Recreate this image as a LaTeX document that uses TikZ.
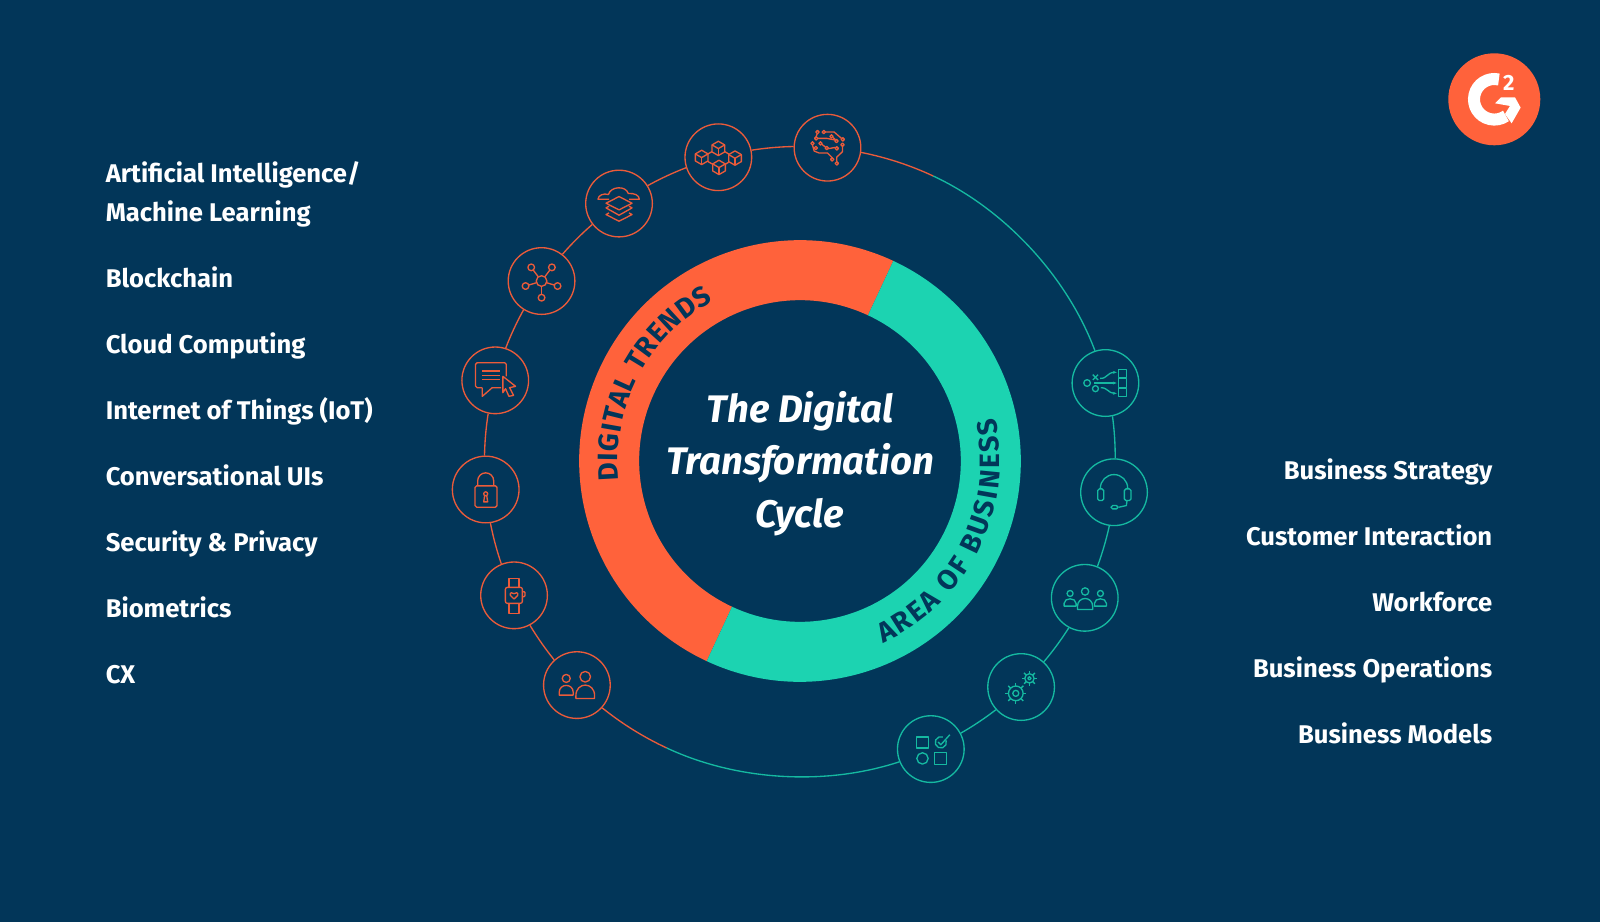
\documentclass[tikz,border=0pt]{standalone}
\usepackage{fontspec}
\setmainfont{Fira Sans}
\usetikzlibrary{arrows.meta,calc,decorations.text}
\definecolor{papernavy}{HTML}{023659}
\definecolor{ringorange}{HTML}{FF623B}
\definecolor{ringteal}{HTML}{1CD3B1}
\definecolor{lineorange}{HTML}{EB5B3A}
\definecolor{lineteal}{HTML}{15B9A1}
\newcommand{\ringfont}{\fontsize{21}{21}\selectfont\bfseries}
\newcommand{\cubeglyph}[2]{%
  \draw (#1,#2) ++(0,-21) -- ++(19,11) -- ++(0,21) -- ++(-19,11)
    -- ++(-19,-11) -- ++(0,-21) -- cycle;
  \draw (#1,#2) ++(-19,-10) -- ++(19,11) -- ++(19,-11);
  \draw (#1,#2) ++(0,1) -- ++(0,21);
}
\newcommand{\gearglyph}[5]{%
  \draw (#1,#2) circle[radius=#3];
  \draw (#1,#2) circle[radius=#4];
  \foreach \gearangle in {0,45,...,315}
    \draw ([shift={(#1,#2)}]\gearangle:#3) -- ([shift={(#1,#2)}]\gearangle:#5);
}
\newcommand{\personglyph}[6]{%
  \draw (#1,#2) circle[radius=#3];
  \draw (#1-#4,#6) -- (#1-#4,#6-8)
    .. controls (#1-#4,#5-#6/3+#5/3+8/3) and (#1+#4,#5-#6/3+#5/3+8/3) .. (#1+#4,#6-8)
    -- (#1+#4,#6) -- cycle;
}
\tikzset{
  sidelabel/.style={font=\fontsize{19.2}{29.6}\selectfont\bfseries, text=white, inner sep=0pt},
  titletext/.style={font=\fontsize{28.8}{39.4}\selectfont\bfseries\itshape, text=white,
    align=center, inner sep=0pt},
  orangeicon/.style={circle, draw=lineorange, line width=1pt, minimum size=50pt, inner sep=0pt},
  tealicon/.style={circle, draw=lineteal, line width=1pt, minimum size=50pt, inner sep=0pt},
  orangeleg/.style={draw=lineorange, line width=1pt, looseness=.85},
  tealleg/.style={draw=lineteal, line width=1pt, looseness=.85},
  iconscope/.style={shift={(#1.center)}, x=.25pt, y=-.25pt, line width=1pt, line join=round},
  orangeglyph/.style={iconscope=#1, lineorange},
  tealglyph/.style={iconscope=#1, lineteal}
}
\begin{document}
\begin{tikzpicture}[x=.75pt,y=.75pt]
  \fill[papernavy] (-800,-461) rectangle (800,461);
  \useasboundingbox (-800,-461) rectangle (800,461);

  % ring
  \fill[ringorange] (65:220.8) arc[start angle=65,end angle=245,radius=220.8]
    -- (245:160.8) arc[start angle=245,end angle=65,radius=160.8] -- cycle;
  \fill[ringteal] (245:220.8) arc[start angle=245,end angle=425,radius=220.8]
    -- (65:160.8) arc[start angle=425,end angle=245,radius=160.8] -- cycle;
  \path[decorate, decoration={text along path, text align=fit to path,
    text={|\ringfont\color{papernavy}|DIGITAL TRENDS}}]
    (186:182) arc[start angle=186,end angle=118.5,radius=182];
  \path[decorate, decoration={text along path, text align=fit to path,
    text={|\ringfont\color{papernavy}|AREA OF BUSINESS}}]
    (-65.5:200) arc[start angle=-65.5,end angle=12.5,radius=200];
  \node[titletext] (cycletitle) at (0,-2.5)
    {The Digital\\Transformation\\Cycle};

  % left list
  \node[sidelabel, anchor=base west, align=left] (labelai) at (-694.5,239.5)
    {Artificial Intelligence/\\Machine Learning};
  \node[sidelabel, anchor=base west] (labelchain) at (-694.5,173.5) {Blockchain};
  \node[sidelabel, anchor=base west] (labelcloud) at (-694.5,107.5) {Cloud Computing};
  \node[sidelabel, anchor=base west] (labeliot) at (-694.5,41.5) {Internet of Things (IoT)};
  \node[sidelabel, anchor=base west] (labelui) at (-694.5,-24.5) {Conversational UIs};
  \node[sidelabel, anchor=base west] (labelsec) at (-694.5,-90.5) {Security \& Privacy};
  \node[sidelabel, anchor=base west] (labelbio) at (-694.5,-156.5) {Biometrics};
  \node[sidelabel, anchor=base west] (labelcx) at (-694.5,-222.5) {CX};

  % right list
  \node[sidelabel, anchor=base east] (labelstrategy) at (692.5,-18) {Business Strategy};
  \node[sidelabel, anchor=base east] (labelcustomer) at (692.5,-84) {Customer Interaction};
  \node[sidelabel, anchor=base east] (labelworkforce) at (692.5,-150) {Workforce};
  \node[sidelabel, anchor=base east] (labelops) at (692.5,-216) {Business Operations};
  \node[sidelabel, anchor=base east] (labelmodels) at (692.5,-282) {Business Models};

  % icon circles
  \node[orangeicon] (brain) at ([yshift=-.75pt]85:315.5) {};
  \node[orangeicon] (blocks) at ([yshift=-.75pt]105:315.5) {};
  \node[orangeicon] (cloud) at ([yshift=-.75pt]125:315.5) {};
  \node[orangeicon] (network) at ([yshift=-.75pt]145:315.5) {};
  \node[orangeicon] (chat) at ([yshift=-.75pt]165:315.5) {};
  \node[orangeicon] (lock) at ([yshift=-.75pt]185:315.5) {};
  \node[orangeicon] (watch) at ([yshift=-.75pt]205:315.5) {};
  \node[orangeicon] (people) at ([yshift=-.75pt]225:315.5) {};
  \node[tealicon] (checks) at ([yshift=-.75pt]294.5:315.5) {};
  \node[tealicon] (gears) at ([yshift=-.75pt]314.5:315.5) {};
  \node[tealicon] (team) at ([yshift=-.75pt]334.5:315.5) {};
  \node[tealicon] (headset) at ([yshift=-.75pt]354.5:315.5) {};
  \node[tealicon] (flow) at ([yshift=-.75pt]14.5:315.5) {};
  \coordinate (swaptop) at ([yshift=-.75pt]65:315.5);
  \coordinate (swapbottom) at ([yshift=-.75pt]245:315.5);

  % arcs
  \draw[orangeleg] (swaptop) to[bend right=6.98] (brain.352);
  \draw[orangeleg] (brain.178) to[bend right=3.95] (blocks.12);
  \draw[orangeleg] (blocks.198) to[bend right=3.95] (cloud.32);
  \draw[orangeleg] (cloud.218) to[bend right=3.95] (network.52);
  \draw[orangeleg] (network.238) to[bend right=3.95] (chat.72);
  \draw[orangeleg] (chat.258) to[bend right=3.95] (lock.92);
  \draw[orangeleg] (lock.278) to[bend right=3.95] (watch.112);
  \draw[orangeleg] (watch.298) to[bend right=3.95] (people.132);
  \draw[orangeleg] (people.318) to[bend right=6.98] (swapbottom);
  \draw[tealleg] (swapbottom) to[bend right=21.7] (checks.202);
  \draw[tealleg] (checks.28) to[bend right=3.95] (gears.222);
  \draw[tealleg] (gears.48) to[bend right=3.95] (team.242);
  \draw[tealleg] (team.68) to[bend right=3.95] (headset.262);
  \draw[tealleg] (headset.88) to[bend right=3.95] (flow.282);
  \draw[tealleg] (flow.108) to[bend right=22.2] (swaptop);

  % brain glyph
  \begin{scope}[orangeglyph=brain]
    \foreach \px/\py in {-30/-47,-11/-47,12/-34,27/-20,46/-25,45/-9,28/2,14/35,28/47,
      -34/-28,-45/-13,-35/1,-21/-13,-2/1}
      \draw (\px,\py) circle[radius=5];
    \draw (-6,-47) -- (20,-47) -- (42,-28);
    \draw (-31,-42) -- (-34,-33);
    \draw (-29,-28) -- (-2,-28) -- (23,-23);
    \draw (-45,-8) -- (-40,10) -- (-25,16) -- (0,16) -- (14,30);
    \draw (-17,-10) -- (-6,-2);
    \draw (2,3) -- (24,-1);
    \draw (45,-4) -- (45,12) -- (28,28) -- (28,42);
    \draw (16,-31) -- (24,-24);
  \end{scope}

  % blocks glyph
  \begin{scope}[orangeglyph=blocks]
    \cubeglyph{0}{-27}
    \cubeglyph{-50}{0}
    \cubeglyph{50}{2}
    \cubeglyph{2}{30}
    \draw (-31,-10) -- (-19,-17);
    \draw (19,-17) -- (31,-10);
    \draw (-31,13) -- (-17,21);
    \draw (31,15) -- (21,21);
  \end{scope}

  % cloud glyph
  \begin{scope}[orangeglyph=cloud]
    \draw (-30,-13) -- (-63,-13) .. controls (-63,-25) and (-45,-32) .. (-32,-27)
      .. controls (-25,-52) and (20,-55) .. (28,-30)
      .. controls (45,-32) and (61,-25) .. (61,-13) -- (30,-13);
    \draw (0,-21) -- (39,-1) -- (0,19) -- (-39,-1) -- cycle;
    \draw (-30,8) -- (-39,13) -- (0,35) -- (39,13) -- (30,8);
    \draw (-30,28) -- (-39,33) -- (0,53) -- (39,33) -- (30,28);
  \end{scope}

  % network glyph
  \begin{scope}[orangeglyph=network]
    \draw (0,0) circle[radius=16];
    \draw (-31,-41) circle[radius=10];
    \draw (31,-41) circle[radius=10];
    \draw (-48,15) circle[radius=10];
    \draw (48,15) circle[radius=10];
    \draw (0,50) circle[radius=10];
    \draw (-10,-13) -- (-25,-33);
    \draw (10,-13) -- (25,-33);
    \draw (-15,5) -- (-38,12);
    \draw (15,5) -- (38,12);
    \draw (0,16) -- (0,40);
  \end{scope}

  % chat glyph
  \begin{scope}[orangeglyph=chat]
    \draw[rounded corners=1.2pt] (33,-12) -- (33,-53) -- (-59,-53) -- (-59,22) -- (-39,22);
    \draw (-39,22) -- (-39,48) -- (-9,22) -- (18,22);
    \draw (-40,-28) -- (14,-28);
    \draw (-40,-15) -- (14,-15);
    \draw (-40,-2) -- (14,-2);
    \draw (23,-12) -- (61,18) -- (43,22) -- (55,45) -- (41,48) -- (31,25) -- (23,37) -- cycle;
  \end{scope}

  % lock glyph
  \begin{scope}[orangeglyph=lock]
    \draw[rounded corners=1.2pt] (-32,-11) rectangle (34,53);
    \draw (-24,-11) -- (-24,-26) arc[start angle=180,end angle=360,radius=24] -- (24,-11);
    \draw (0,13) circle[radius=6];
    \draw (-3,18) -- (-6,37) -- (6,37) -- (3,18);
  \end{scope}

  % watch glyph
  \begin{scope}[orangeglyph=watch]
    \draw[rounded corners=1.5pt] (-26,-24) rectangle (25,24);
    \draw (-15,-24) -- (-15,-51) -- (15,-51) -- (15,-24);
    \draw (-15,24) -- (-15,54) -- (15,54) -- (15,24);
    \draw[rounded corners=.8pt] (25,-11) -- (33,-11) -- (33,4) -- (25,4);
    \draw (0,11) -- (-11,0) .. controls (-14,-9) and (-4,-10) .. (0,-5)
      .. controls (4,-10) and (14,-9) .. (11,0) -- cycle;
  \end{scope}

  % people glyph
  \begin{scope}[orangeglyph=people]
    \personglyph{-32}{-20}{12}{21}{1}{30}
    \personglyph{25}{-25}{16}{28}{0}{40}
  \end{scope}

  % checks glyph
  \begin{scope}[tealglyph=checks]
    \draw (-42,-36) rectangle (-7,-3);
    \draw (46,-26) arc[start angle=-20,end angle=290,radius=17];
    \draw (22,-21) -- (30,-13) -- (57,-43);
    \draw (-25,28) circle[radius=17];
    \draw (12,11) rectangle (47,46);
  \end{scope}

  % gears glyph
  \begin{scope}[tealglyph=gears]
    \gearglyph{-16}{19}{22}{9}{32}
    \gearglyph{25}{-26}{14}{5}{23}
  \end{scope}

  % team glyph
  \begin{scope}[tealglyph=team]
    \personglyph{1}{-19}{11}{23}{2}{35}
    \personglyph{-44}{-13}{9}{18}{3}{25}
    \personglyph{47}{-13}{9}{18}{3}{25}
  \end{scope}

  % headset glyph
  \begin{scope}[tealglyph=headset]
    \draw (-41,-10) -- (-41,-12) arc[start angle=180,end angle=360,radius=41] -- (41,-10);
    \draw[rounded corners=1.2pt] (-31,-10) -- (-49,-10) -- (-49,25) -- (-31,25) -- cycle;
    \draw[rounded corners=1.2pt] (31,-10) -- (51,-10) -- (51,25) -- (31,25) -- cycle;
    \draw (39,25) -- (37,40) -- (14,45);
    \draw[rounded corners=1.2pt] (-9,40) rectangle (12,50);
  \end{scope}

  % flow glyph
  \begin{scope}[tealglyph=flow]
    \draw (-55,0) circle[radius=10];
    \draw (-38,-25) -- (-22,-9);
    \draw (-38,-9) -- (-22,-25);
    \draw (-30,17) circle[radius=9];
    \draw (39,-41) rectangle (63,-17);
    \draw (39,-14) rectangle (63,13);
    \draw (39,17) rectangle (63,41);
    \draw[-{Stealth[length=1mm]}] (-16,-14) .. controls (5,-12) and (5,-32) .. (34,-32);
    \draw[-{Stealth[length=1mm]}] (-34,0) -- (34,0);
    \draw[-{Stealth[length=1mm]}] (-14,14) .. controls (8,14) and (8,31) .. (34,31);
  \end{scope}

  % badge
  \node[circle, fill=ringorange, minimum size=69pt, inner sep=0pt] (badge) at (694.3,361.7) {};
  \draw[white, line width=9pt] ([shift={(77:20.3)}]badge.center)
    arc[start angle=77,end angle=305,radius=20.3];
  \fill[white, shift={(badge.center)}, x=.25pt, y=-.25pt] (2,12) -- (20,-6) -- (62,-6)
    -- (79,25) -- (52,72) -- (32,44) -- (47,20) -- cycle;
  \node[font=\fontsize{16.5}{16.5}\selectfont\bfseries, text=white, inner sep=0pt]
    (badgetwo) at (708.7,377.7) {2};
\end{tikzpicture}
\end{document}
